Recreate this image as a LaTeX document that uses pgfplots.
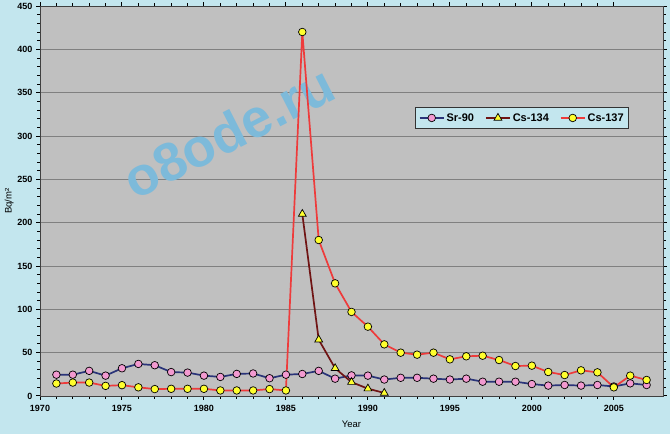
\documentclass[border=0pt]{standalone}
\usepackage{pgfplots}
\pgfplotsset{compat=1.18}
\usepackage{fontspec}
\setmainfont{Liberation Sans}
\definecolor{bgblue}{HTML}{C3E6EE}
\definecolor{plotgray}{HTML}{C0C0C0}
\definecolor{srline}{HTML}{2A3479}
\definecolor{csfourline}{HTML}{701414}
\definecolor{cssevline}{HTML}{EE3B3B}
\definecolor{pinkm}{HTML}{F29AD0}
\definecolor{yellowm}{HTML}{FFFF2E}
\definecolor{wm}{HTML}{7DBADA}
\pgfplotstableread{
year val
1971 24.6
1972 24.6
1973 29
1974 23.5
1975 32
1976 37
1977 35.5
1978 27.6
1979 27
1980 23.5
1981 22
1982 25.5
1983 26
1984 20.5
1985 24.6
1986 25.4
1987 29
1988 20
1989 23.8
1990 23.5
1991 19
1992 21
1993 21
1994 20
1995 19
1996 20
1997 16.5
1998 16.5
1999 16.5
2000 13.8
2001 12
2002 12.7
2003 12
2004 12.7
2005 11
2006 14.6
2007 12.7
}\srdata
\pgfplotstableread{
year val
1986 210
1987 65
1988 32
1989 16
1990 8.5
1991 3.5
}\csfourdata
\pgfplotstableread{
year val
1971 14.4
1972 15.5
1973 15.5
1974 11.7
1975 12.5
1976 10
1977 8
1978 8.3
1979 8.3
1980 8.3
1981 6.4
1982 6.4
1983 6.4
1984 8
1985 6.4
1986 420
1987 180
1988 130
1989 97
1990 80
1991 59.6
1992 50
1993 47.7
1994 50
1995 42.3
1996 45.8
1997 46.5
1998 41.5
1999 34.6
2000 35
2001 27.7
2002 24.2
2003 29.6
2004 27.3
2005 10
2006 23.5
2007 18.5
}\cssevdata
\begin{document}
\begin{tikzpicture}[x=1pt,y=1pt]
\fill[bgblue] (0,0) rectangle (670,434);
\useasboundingbox (0,0) rectangle (670,434);
\begin{axis}[
  at={(40pt,38pt)}, anchor=south west,
  width=623pt, height=390pt, scale only axis,
  xmin=1970, xmax=2008, ymin=0, ymax=450,
  axis background/.style={fill=plotgray},
  axis line style={draw=black!75, line width=0.9pt},
  xtick={1970,1975,...,2005},
  ytick={0,50,...,450},
  minor x tick num=4, minor y tick num=4,
  tick align=outside,
  tick style={black, line width=1pt},
  major tick length=4pt, minor tick length=3pt,
  ymajorgrids, major grid style={draw=black!50, line width=0.7pt},
  xticklabel style={/pgf/number format/1000 sep={}, font=\bfseries\fontsize{9}{10}\selectfont, yshift=-2pt},
  yticklabel style={font=\bfseries\fontsize{9}{10}\selectfont},
  /pgf/number format/assume math mode=true,
  xlabel={Year}, ylabel={Bq/m²},
  xlabel style={font=\fontsize{9.5}{10}\selectfont, yshift=-2pt},
  ylabel style={font=\fontsize{9.5}{10}\selectfont, yshift=-3pt},
  legend columns=3,
  legend style={at={(axis cs:1992.9,333)}, anchor=north west, fill=bgblue, draw=black!80, line width=0.9pt,
     font=\bfseries\fontsize{11}{12}\selectfont, inner xsep=3pt, inner ysep=3.5pt,
     /tikz/every even column/.append style={column sep=9pt}},
  legend image code/.code={\draw[mark repeat=2,mark phase=2,#1] plot coordinates {(0pt,0pt) (12pt,0pt) (24pt,0pt)};},
  clip=false,
]
\node[rotate=27, text=wm, font=\bfseries\fontsize{54}{58}\selectfont] at (axis cs:1981.5,305) {o8ode.ru};
\addplot[srline, line width=1.7pt, mark=*, mark size=3.8pt, mark options={fill=pinkm, draw=black, line width=0.7pt}] table[x=year,y=val] {\srdata};
\addlegendentry{Sr-90}
\addplot[csfourline, line width=1.7pt, mark=triangle*, mark size=4.5pt, mark options={fill=yellowm, draw=black, line width=0.7pt}] table[x=year,y=val] {\csfourdata};
\addlegendentry{Cs-134}
\addplot[cssevline, line width=1.7pt, mark=*, mark size=3.8pt, mark options={fill=yellowm, draw=black, line width=0.7pt}] table[x=year,y=val] {\cssevdata};
\addlegendentry{Cs-137}
\end{axis}
\end{tikzpicture}
\end{document}
